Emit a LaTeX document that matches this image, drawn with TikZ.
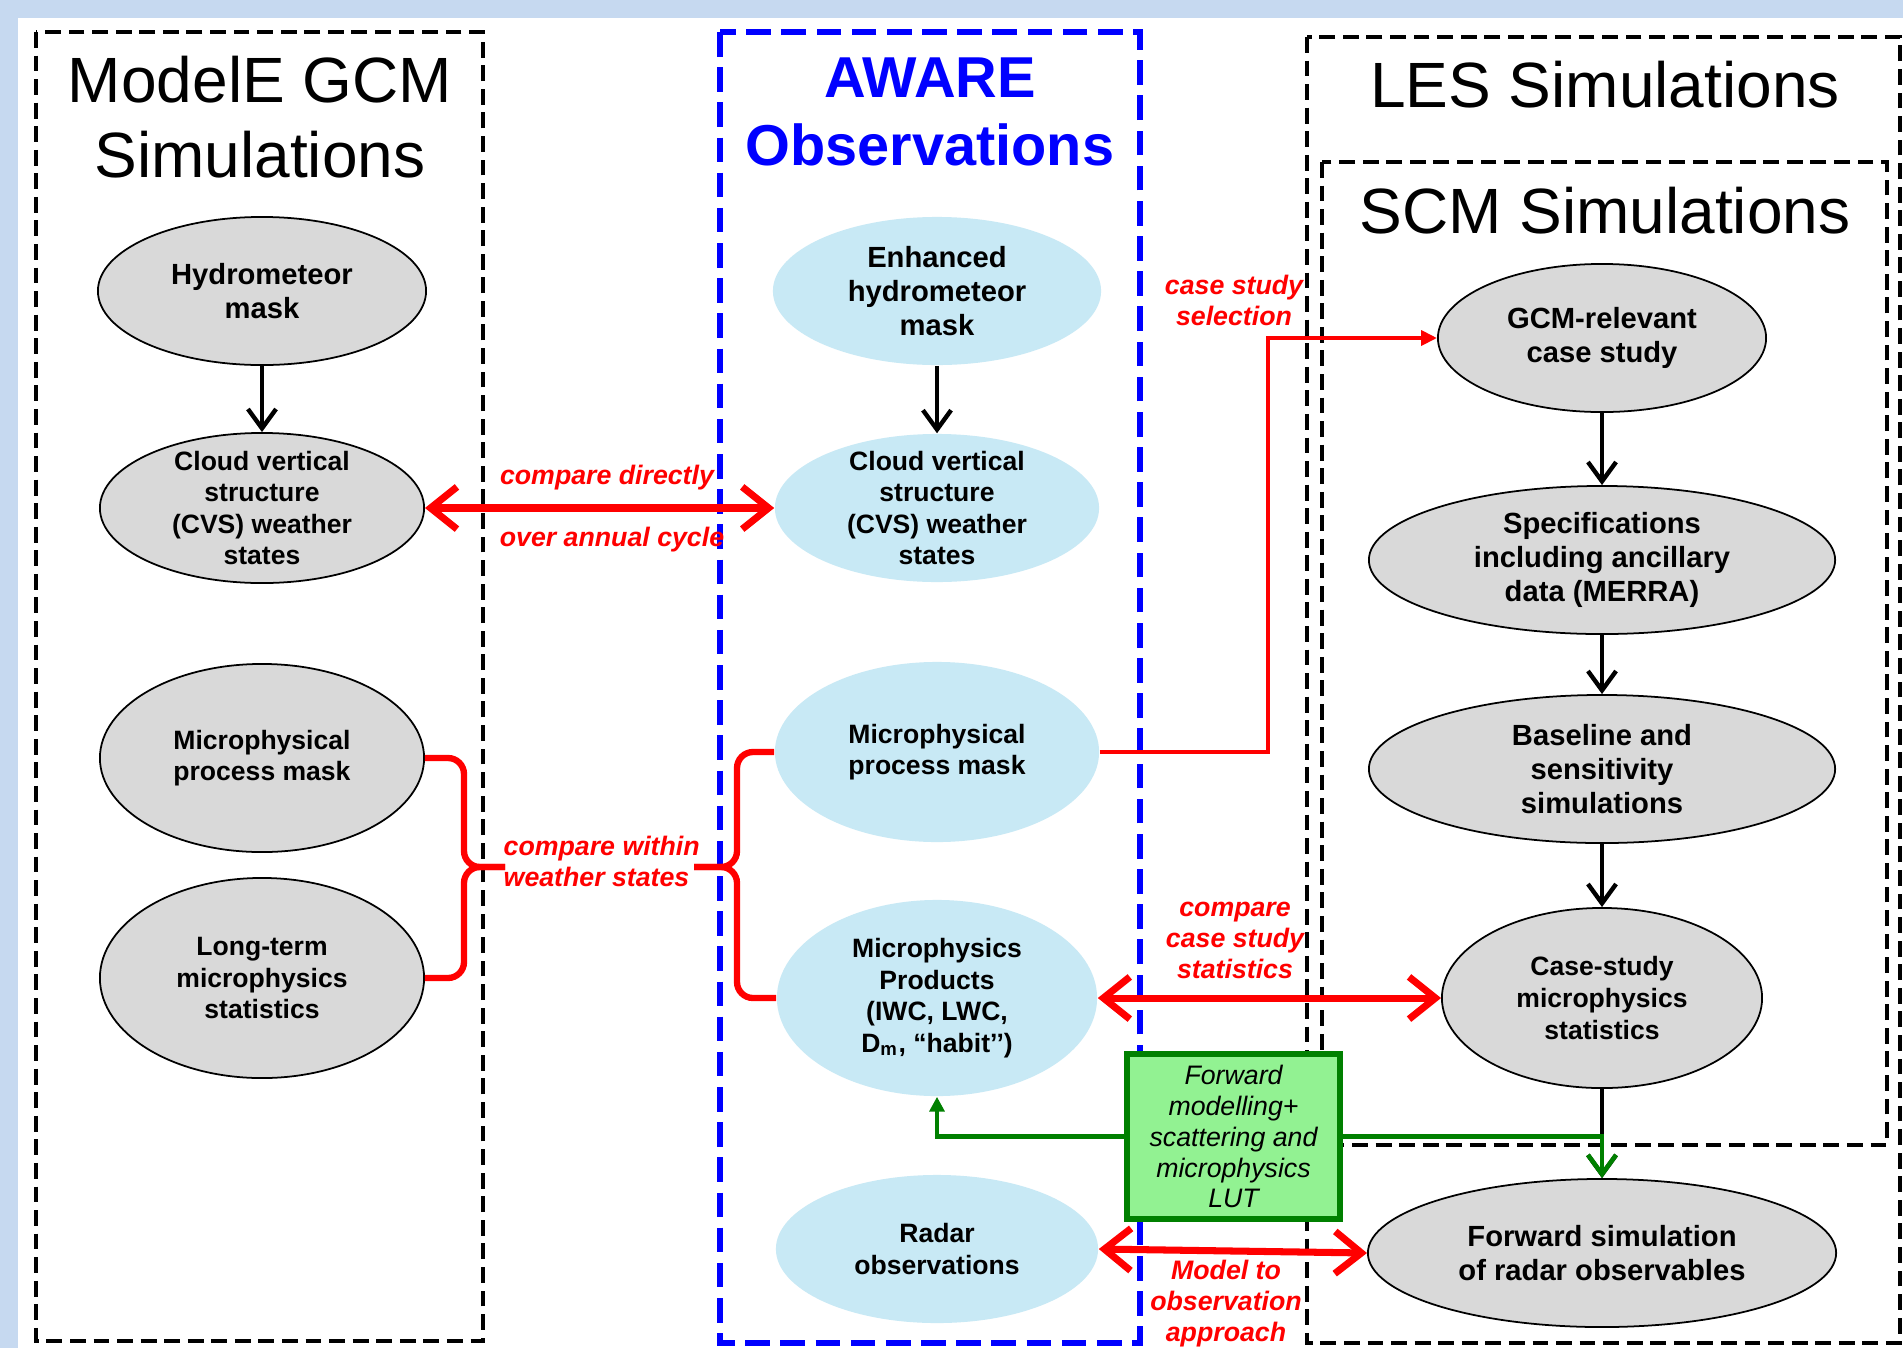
\documentclass[tikz,border=0pt]{standalone}
\usepackage{fontspec}
\setmainfont{Liberation Sans}
\usetikzlibrary{arrows.meta,shapes.geometric,calc}
\definecolor{bgblue}{RGB}{198,217,240}
\definecolor{gfill}{RGB}{217,217,217}
\definecolor{lbfill}{RGB}{200,233,245}
\definecolor{gboxfill}{RGB}{146,242,146}
\definecolor{dgreen}{RGB}{0,128,0}
\newcommand\fbig{\fontsize{8.3pt}{9.6pt}\selectfont\bfseries}
\newcommand\fsm{\fontsize{7.55pt}{9.0pt}\selectfont\bfseries}
\newcommand\fred{\fontsize{7.6pt}{8.8pt}\selectfont\bfseries\itshape}
\newcommand\fgrn{\fontsize{7.6pt}{8.8pt}\selectfont\itshape}
\newcommand\ftitle{\fontsize{18.2pt}{21pt}\selectfont}
\newcommand\fblue{\fontsize{16.4pt}{19pt}\selectfont\bfseries}
\begin{document}
\begin{tikzpicture}[x=0.01cm,y=-0.01cm,
  blkdash/.style={draw=black, line width=1.15pt, dash pattern=on 4.5pt off 2.2pt},
  bluedash/.style={draw=blue, line width=1.9pt, dash pattern=on 7pt off 3pt},
  gnode/.style={ellipse, draw=black, line width=0.5pt, fill=gfill, inner sep=0pt},
  bnode/.style={ellipse, fill=lbfill, inner sep=0pt},
  bigtxt/.style={align=center, font=\fbig, inner sep=0pt},
  smtxt/.style={align=center, font=\fsm, inner sep=0pt},
  redlbl/.style={text=red, font=\fred, align=center, inner sep=0pt},
  title/.style={font=\ftitle, inner sep=0pt, anchor=base},
  btitle/.style={font=\fblue, text=blue, inner sep=0pt, anchor=base},
  blkarrow/.style={draw=black, line width=1.25pt, -{Straight Barb[length=5.5pt,width=8pt]}},
  redarrow/.style={draw=red, line width=2pt, {Straight Barb[length=7.5pt,width=12pt]}-{Straight Barb[length=7.5pt,width=12pt]}},
  redbr/.style={draw=red, line width=1.8pt, rounded corners=0.16cm},
  redthin/.style={draw=red, line width=1.1pt},
  gline/.style={draw=dgreen, line width=1.3pt},
  gbox/.style={draw=dgreen, line width=1.5pt, fill=gboxfill, minimum width=2.13cm, minimum height=1.65cm, inner sep=0pt, align=center, font=\fgrn}
]
\useasboundingbox (0,0) rectangle (1903,1348);
\fill[bgblue] (0,0) rectangle (1903,1348);
\fill[white] (18,18) rectangle (1903,1348);

% containers
\draw[blkdash] (36,32) rectangle (483,1341);
\draw[bluedash] (720,32) rectangle (1140,1343);
\draw[blkdash] (1307,37) rectangle (1900,1343);
\draw[blkdash] (1322,162) rectangle (1887,1145);

% titles
\node[title] (t1) at (260,102) {ModelE GCM};
\node[title] (t2) at (260,177) {Simulations};
\node[btitle] (t3) at (930,97) {AWARE};
\node[btitle] (t4) at (930,165) {Observations};
\node[title] (t5) at (1605,107) {LES Simulations};
\node[title] (t6) at (1605,233) {SCM Simulations};

% left column
\node[gnode, minimum width=3.28cm, minimum height=1.48cm] (lhydro) at (262,291) {};
\node[bigtxt] (lhydroT) at (lhydro) {Hydrometeor\\mask};
\node[gnode, minimum width=3.24cm, minimum height=1.50cm] (lcvs) at (262,508) {};
\node[smtxt] (lcvsT) at (lcvs) {Cloud vertical\\structure\\(CVS) weather\\states};
\node[gnode, minimum width=3.24cm, minimum height=1.88cm] (lmicro) at (262,758) {};
\node[smtxt] (lmicroT) at (lmicro) {Microphysical\\process mask};
\node[gnode, minimum width=3.24cm, minimum height=2.0cm] (llong) at (262,978) {};
\node[smtxt] (llongT) at (llong) {Long-term\\microphysics\\statistics};

% middle column
\node[bnode, minimum width=3.28cm, minimum height=1.48cm] (menh) at (937,291) {};
\node[bigtxt] (menhT) at (menh) {Enhanced\\hydrometeor\\mask};
\node[bnode, minimum width=3.24cm, minimum height=1.48cm] (mcvs) at (937,508) {};
\node[smtxt] (mcvsT) at (mcvs) {Cloud vertical\\structure\\(CVS) weather\\states};
\node[bnode, minimum width=3.24cm, minimum height=1.80cm] (mmicro) at (937,752) {};
\node[smtxt] (mmicroT) at (mmicro) {Microphysical\\process mask};
\node[bnode, minimum width=3.20cm, minimum height=1.96cm] (prod) at (937,998) {};
\node[smtxt] (prodT) at (prod) {Microphysics\\Products\\(IWC, LWC,\\D\textsubscript{m}, “habit’’)};
\node[bnode, minimum width=3.22cm, minimum height=1.48cm] (radar) at (937,1249) {};
\node[smtxt] (radarT) at (radar) {Radar\\observations};

% right column
\node[gnode, minimum width=3.28cm, minimum height=1.48cm] (gcm) at (1602,338) {};
\node[bigtxt] (gcmT) at (gcm) {GCM-relevant\\case study};
\node[gnode, minimum width=4.66cm, minimum height=1.48cm] (spec) at (1602,560) {};
\node[bigtxt] (specT) at (spec) {Specifications\\including ancillary\\data (MERRA)};
\node[gnode, minimum width=4.66cm, minimum height=1.48cm] (base) at (1602,769) {};
\node[bigtxt] (baseT) at (base) {Baseline and\\sensitivity\\simulations};
\node[gnode, minimum width=3.20cm, minimum height=1.80cm] (case) at (1602,998) {};
\node[smtxt] (caseT) at (case) {Case-study\\microphysics\\statistics};
\node[gnode, minimum width=4.68cm, minimum height=1.48cm] (fwd) at (1602,1253) {};
\node[bigtxt] (fwdT) at (fwd) {Forward simulation\\of radar observables};

% black arrows
\draw[blkarrow] (lhydro.south) -- (lcvs.north);
\draw[blkarrow] (menh.south) -- (mcvs.north);
\draw[blkarrow] (gcm.south) -- (spec.north);
\draw[blkarrow] (spec.south) -- (base.north);
\draw[blkarrow] (base.south) -- (case.north);
\draw[blkarrow] (case.south) -- (fwd.north);

% red comparisons
\draw[redarrow] (lcvs.east) -- (mcvs.west);
\draw[redarrow] (prod.east) -- (case.west);
\draw[redarrow] (radar.east) -- (fwd.west);

% brackets
\coordinate (lbv) at (464,867);
\coordinate (lcusp) at (505,867);
\coordinate (rbv) at (737,867);
\coordinate (rcusp) at (694,867);
\draw[redbr] (lmicro.east) -| (lbv) -- (lcusp);
\draw[redbr] (lcusp) -- (lbv) |- (llong.east);
\draw[redbr] (mmicro.west) -| (rbv) -- (rcusp);
\draw[redbr] (rcusp) -- (rbv) |- (prod.west);

% case study selection
\coordinate (selx) at (1268,0);
\draw[redthin, -{Triangle[length=4.5pt,width=4.2pt]}] (mmicro.east) -- (mmicro.east -| selx) |- (gcm.west);

% green box and lines
\node[gbox] (lut) at (1233.5,1136.5) {Forward\\modelling+\\scattering and\\microphysics\\LUT};
\draw[gline, -{Triangle[length=4.2pt,width=4.2pt]}] (lut.west) -| (prod.south);
\draw[gline, -{Straight Barb[length=5.5pt,width=8pt]}] (lut.east) -| (fwd.north);

% red labels
\node[redlbl] (l1) at (607,478) {compare directly};
\node[redlbl] (l2) at (612,540) {over annual cycle};
\node[redlbl, align=left, anchor=west] (l3) at (503,861) {compare within\\weather states};
\node[redlbl] (l4) at (1234,300) {case study\\selection};
\node[redlbl] (l5) at (1235,940) {compare\\case study\\statistics};
\node[redlbl] (l6) at (1226,1304) {Model to\\observation\\approach};
\end{tikzpicture}
\end{document}
